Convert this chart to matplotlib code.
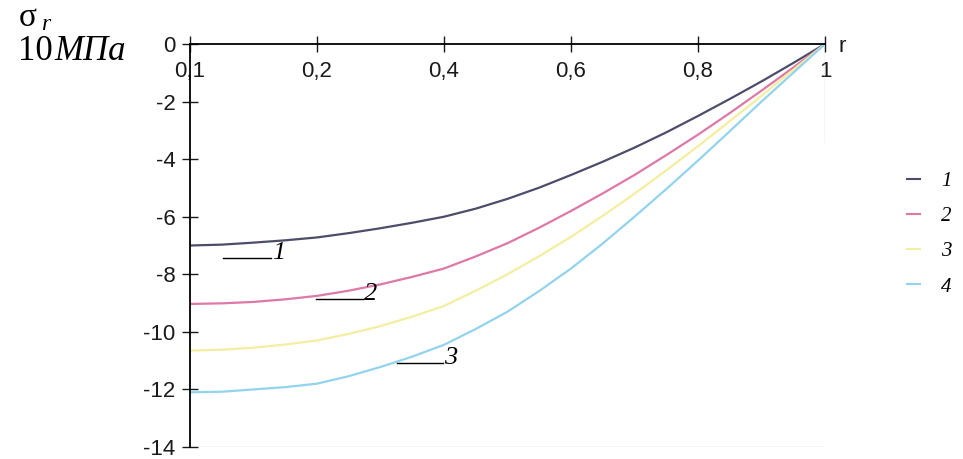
import matplotlib
matplotlib.use('Agg')
import numpy as np
import matplotlib.pyplot as plt
from matplotlib.lines import Line2D

# categories on the r axis (equally spaced labels, as in the original chart)
r_labels = ['0,1', '0,2', '0,4', '0,6', '0,8', '1']
# curve samples, read at quarter-step positions along the category axis
pos = [0, 0.25, 0.5, 0.75, 1, 1.25, 1.5, 1.75, 2, 2.25, 2.5,
       2.75, 3, 3.25, 3.5, 3.75, 4, 4.25, 4.5, 4.75, 5]
s1 = [-7.0, -6.97, -6.9, -6.82, -6.72, -6.57, -6.4, -6.21, -6.0, -5.72, -5.38,
      -4.99, -4.55, -4.09, -3.6, -3.07, -2.5, -1.91, -1.3, -0.66, 0]
s2 = [-9.03, -9.01, -8.96, -8.87, -8.75, -8.57, -8.35, -8.09, -7.8, -7.38, -6.92,
      -6.38, -5.8, -5.19, -4.55, -3.86, -3.15, -2.4, -1.62, -0.82, 0]
s3 = [-10.65, -10.62, -10.55, -10.44, -10.3, -10.07, -9.8, -9.47, -9.1, -8.57, -8.0,
      -7.37, -6.7, -5.97, -5.2, -4.39, -3.55, -2.68, -1.8, -0.9, 0]
s4 = [-12.1, -12.08, -12.0, -11.92, -11.8, -11.54, -11.22, -10.86, -10.45, -9.9, -9.3,
      -8.58, -7.8, -6.93, -6.0, -5.04, -4.05, -3.03, -2.0, -1.0, 0]
names = ['1', '2', '3', '4']
colors = ['#4d4d6b', '#de78a6', '#f4eea0', '#93d3ee']

plt.rcParams['font.family'] = ['Liberation Sans', 'DejaVu Sans']

fig = plt.figure(figsize=(9.63, 4.59), dpi=100)
ax = fig.add_axes([190/963, 1-447/459, 635/963, 403/459])

for s, c in zip([s1, s2, s3, s4], colors):
    ax.plot(pos, s, color=c, lw=1.6, solid_capstyle='round')

ax.set_xlim(0, 5)
ax.set_ylim(-14, 0)

# x axis runs along y = 0
ax.spines['bottom'].set_position(('data', 0))
ax.spines['top'].set_visible(False)
ax.spines['right'].set_visible(False)
ax.spines['left'].set_linewidth(1.3)
ax.spines['bottom'].set_linewidth(1.3)
ax.axhline(-14, color='#d0d0d0', lw=1.0)
ax.plot([5, 5], [0, -3.4], color='#d0d0d0', lw=1.0)

ax.set_xticks(range(len(r_labels)))
ax.set_xticklabels(r_labels)
ax.set_yticks(np.arange(-14, 1, 2))
ax.set_yticklabels([str(v) for v in np.arange(-14, 1, 2)])
ax.tick_params(axis='both', direction='inout', length=11, width=1.0,
               labelsize=16, colors='#1a1a1a')
ax.tick_params(axis='x', pad=7)
ax.tick_params(axis='y', pad=5)

# axis texts
fig.text(838/963, 1-46/459, 'r', fontsize=16, ha='left', va='center', color='#1a1a1a')
fig.text(19/963, 1-18/459, 'σ', family='Liberation Serif', fontsize=24,
         ha='left', va='center')
fig.text(41/963, 1-24/459, 'r', family='Liberation Serif', style='italic',
         fontsize=17, ha='left', va='center')
fig.text(18/963, 1-51/459, '10', family='Liberation Serif', fontsize=25,
         ha='left', va='center')
fig.text(54/963, 1-51/459, 'МПа', family='Liberation Serif', style='italic',
         fontsize=25, ha='left', va='center')

# curve labels with leader strokes
marks = [((0.26, 0.64), -7.42, '1'), ((0.99, 1.36), -8.85, '2'), ((1.63, 1.99), -11.08, '3')]
for (xa, xb), yv, t in marks:
    ax.plot([xa, xb], [yv, yv], color='black', lw=1.0)
    ax.text(xb + 0.01, yv - 0.05, t, family='Liberation Serif', style='italic',
            fontsize=19, ha='left', va='baseline')

# legend
handles = [Line2D([0], [0], color=c, lw=1.5) for c in colors]
leg = fig.legend(handles, names, loc='center left',
                 bbox_to_anchor=(897/963, 1-234/459), frameon=False, borderpad=0,
                 handlelength=0.6, handletextpad=1.0, labelspacing=0.75,
                 prop={'family': 'Liberation Serif', 'style': 'italic', 'size': 15})

fig.savefig('out.png', dpi=100)
